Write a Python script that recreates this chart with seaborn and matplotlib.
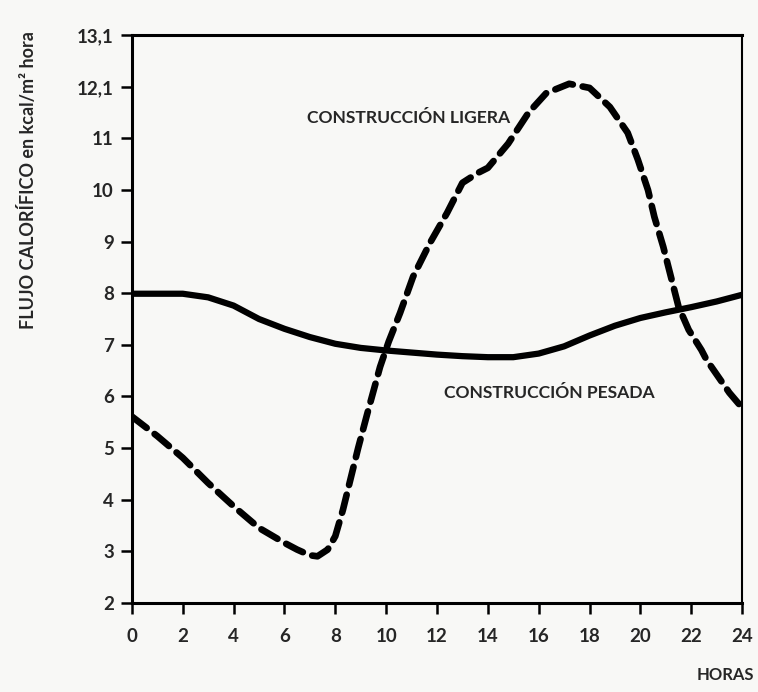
import pandas as pd
import seaborn as sns
import matplotlib.pyplot as plt

sns.set_style(style='white')
plt.rcParams['font.family'] = ['Lato', 'DejaVu Sans']

# construccion ligera (dashed)
ligera_horas = [0, 1, 2, 3, 4, 5, 6, 6.5, 7, 7.3, 7.7, 8, 8.3, 8.6, 8.9, 9.25,
                9.76, 10.1, 10.55, 11.06, 11.73, 12.4, 13.0, 13.6, 14.0, 14.8,
                15.6, 16.3, 17.2, 18.0, 18.8, 19.5, 19.9, 20.3, 20.55, 20.9,
                21.2, 21.5, 21.9, 22.4, 22.6, 23.5, 24]
ligera_flujo = [5.61, 5.23, 4.81, 4.32, 3.87, 3.45, 3.16, 3.03, 2.92, 2.9, 3.03,
                3.29, 3.8, 4.4, 5.0, 5.65, 6.57, 7.06, 7.62, 8.32, 8.98, 9.56,
                10.14, 10.33, 10.43, 10.9, 11.5, 11.88, 12.06, 11.98, 11.61,
                11.11, 10.59, 10.0, 9.48, 8.9, 8.32, 7.74, 7.29, 6.9, 6.71,
                6.07, 5.78]

# construccion pesada (solid)
pesada_horas = list(range(0, 25))
pesada_flujo = [7.99, 7.99, 7.99, 7.92, 7.76, 7.5, 7.31, 7.15, 7.02, 6.94, 6.89,
                6.85, 6.81, 6.78, 6.76, 6.76, 6.83, 6.97, 7.18, 7.37, 7.52,
                7.63, 7.73, 7.84, 7.97]

x_ticks = list(range(0, 25, 2))
y_ticks = list(range(2, 14))
y_tick_labels = ['2', '3', '4', '5', '6', '7', '8', '9', '10', '11', '12,1', '13,1']

df_ligera = pd.DataFrame({'horas': ligera_horas, 'flujo': ligera_flujo})
df_pesada = pd.DataFrame({'horas': pesada_horas, 'flujo': pesada_flujo})

bg = '#f8f8f6'
fig = plt.figure(figsize=(7.58, 6.92), dpi=100, facecolor=bg)
ax = fig.add_axes([0.174, 0.129, 0.805, 0.820], facecolor=bg)

sns.lineplot(data=df_pesada, x='horas', y='flujo', ax=ax, color='black',
             linewidth=4.5, sort=True)
sns.lineplot(data=df_ligera, x='horas', y='flujo', ax=ax, color='black',
             linewidth=4.8, sort=False, dashes=False)
ax.lines[-1].set_dashes([2.8, 1.5])
ax.lines[-1].set_dash_capstyle('round')

ax.set_xlim(0, 24)
ax.set_ylim(2, 13)
ax.set_xticks(x_ticks)
ax.set_xticklabels([str(i) for i in x_ticks], fontsize=13.5, weight='bold')
ax.set_yticks(y_ticks)
ax.set_yticklabels(y_tick_labels, fontsize=13.5, weight='bold')
ax.tick_params(axis='both', direction='out', length=8, width=1.8, color='black',
               left=True, bottom=True)
ax.tick_params(axis='x', pad=10)
ax.tick_params(axis='y', pad=5)
for side in ['left', 'bottom', 'top', 'right']:
    ax.spines[side].set_visible(True)
    ax.spines[side].set_color('black')
ax.spines['left'].set_linewidth(2.2)
ax.spines['bottom'].set_linewidth(2.2)
ax.spines['top'].set_linewidth(2.2)
ax.spines['right'].set_linewidth(1.5)

ax.set_xlabel('')
ax.set_ylabel('FLUJO CALORÍFICO en kcal/m² hora', fontsize=13, weight='bold')
ax.yaxis.set_label_coords(-0.155, 0.745)

ax.text(10.9, 11.4, 'CONSTRUCCIÓN LIGERA', fontsize=12.6, weight='bold',
        ha='center', va='center')
ax.text(16.4, 6.07, 'CONSTRUCCIÓN PESADA', fontsize=12.6, weight='bold',
        ha='center', va='center')
fig.text(0.957, 0.025, 'HORAS', fontsize=12, weight='bold', ha='center',
         va='center')

fig.savefig('out.png', dpi=100, facecolor=bg)
